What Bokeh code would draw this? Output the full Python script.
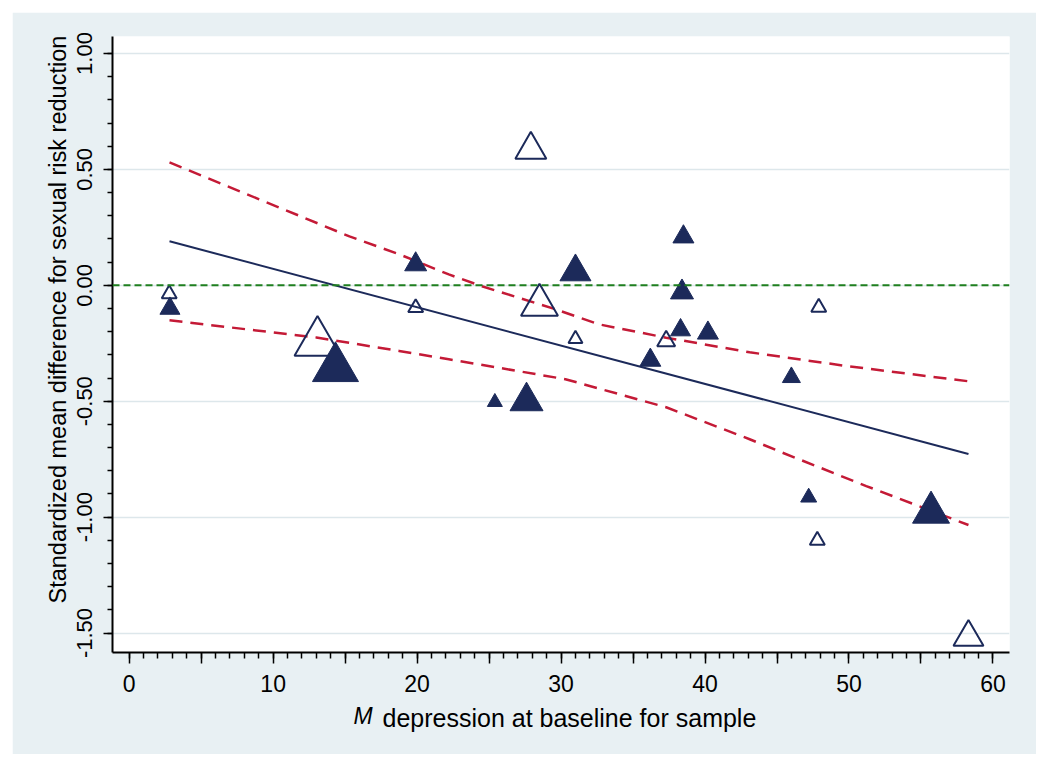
import math
from bokeh.plotting import figure
from bokeh.models import (ColumnDataSource, Range1d, FixedTicker, CustomJSTickFormatter,
                          NumeralTickFormatter, Span, Title)
from bokeh.embed import file_html
from bokeh.resources import INLINE

# ---------------- data ----------------
# hollow triangles
open_x = [2.78, 19.9, 13.08, 27.9, 28.5, 31.0, 37.3, 47.9, 47.8, 58.3]
open_y = [-0.037, -0.097, -0.247, 0.585, -0.085, -0.231, -0.241, -0.095, -1.10, -1.518]
open_size = [15, 15, 46, 31, 37, 14, 18, 15, 15, 30]

# filled triangles
fill_x = [2.83, 14.33, 19.9, 25.4, 27.6, 31.0, 38.5, 38.4, 38.3, 40.2, 36.2, 46.0, 47.2, 55.7]
fill_y = [-0.10, -0.358, 0.09, -0.504, -0.50, 0.058, 0.209, -0.03, -0.193, -0.206, -0.323, -0.397, -0.915, -0.98]
fill_size = [20, 46, 22, 15, 33, 31, 21, 23, 20, 21, 21, 18, 16, 37]

# fitted regression line
fit_x = [2.8, 58.3]
fit_y = [0.19, -0.728]

# confidence band (upper / lower)
upper_x = [2.8, 15.3, 18.75, 22.2, 24.5, 29.6, 32.6, 37.3, 39.6, 43.1, 49.8, 58.3]
upper_y = [0.530, 0.211, 0.134, 0.047, -0.004, -0.103, -0.168, -0.226, -0.251, -0.289, -0.348, -0.414]
lower_x = [2.8, 13.0, 18.75, 22.2, 30.3, 37.3, 43.1, 45.3, 51.2, 58.3]
lower_y = [-0.151, -0.225, -0.283, -0.319, -0.405, -0.526, -0.664, -0.72, -0.866, -1.034]

# ticks
x_major = [0, 5, 10, 15, 20, 25, 30, 35, 40, 45, 50, 55, 60]
x_minor = list(range(0, 61))
y_major = [-1.5, -1.0, -0.5, 0.0, 0.5, 1.0]
y_minor = [-1.5, -1.4, -1.3, -1.2, -1.1, -1.0, -0.9, -0.8, -0.7, -0.6, -0.5, -0.4, -0.3,
           -0.2, -0.1, 0.0, 0.1, 0.2, 0.3, 0.4, 0.5, 0.6, 0.7, 0.8, 0.9, 1.0]

x_title_m = "M"
x_title_rest = "depression at baseline for sample"
y_title = "Standardized mean difference for sexual risk reduction"

# ---------------- styles ----------------
NAVY = "#1c2a5a"
RED = "#c41a36"
GREEN = "#1f7f1f"
OUTER = "#e8f0f3"
FONT = "Liberation Sans"

p = figure(width=1024, height=742, output_backend="svg", toolbar_location=None,
           x_range=Range1d(-1.16, 61.15), y_range=Range1d(-1.584, 1.0733),
           min_border_left=100, min_border_right=27, min_border_top=24, min_border_bottom=102,
           background_fill_color="white", border_fill_color=OUTER, outline_line_color=None)
p.margin = (12, 0, 0, 12)

# axes
xa = p.xaxis[0]
xa.ticker = FixedTicker(ticks=x_major, minor_ticks=x_minor)
xa.formatter = CustomJSTickFormatter(code="return (Math.round(tick) % 10 === 0) ? tick.toFixed(0) : '';")
xa.axis_line_width = 2
xa.axis_line_color = "black"
xa.major_tick_out = 11
xa.major_tick_in = 0
xa.minor_tick_out = 6
xa.minor_tick_in = 0
xa.major_tick_line_width = 1.5
xa.minor_tick_line_width = 1.5
xa.major_label_text_font = FONT
xa.major_label_text_font_size = "23px"
xa.major_label_text_color = "black"
xa.major_label_standoff = 11

ya = p.yaxis[0]
ya.ticker = FixedTicker(ticks=y_major, minor_ticks=y_minor)
ya.formatter = NumeralTickFormatter(format="0.00")
ya.axis_line_width = 2
ya.axis_line_color = "black"
ya.major_tick_out = 9
ya.major_tick_in = 0
ya.minor_tick_out = 5
ya.minor_tick_in = 0
ya.major_tick_line_width = 1.5
ya.minor_tick_line_width = 1.5
ya.major_label_orientation = "vertical"
ya.major_label_text_font = FONT
ya.major_label_text_font_size = "22px"
ya.major_label_text_color = "black"
ya.major_label_standoff = 11

p.xgrid.visible = False
p.ygrid.grid_line_color = "#dde7eb"
p.ygrid.grid_line_width = 1.5

# reference line at zero
p.add_layout(Span(location=0, dimension="width", line_color=GREEN, line_width=2,
                  line_dash="7 4"))

# confidence band and fit
p.line(upper_x, upper_y, line_color=RED, line_width=2.5, line_dash="13 8")
p.line(lower_x, lower_y, line_color=RED, line_width=2.5, line_dash="13 8")
p.line(fit_x, fit_y, line_color=NAVY, line_width=2)

# markers
src_open = ColumnDataSource(dict(x=open_x, y=open_y, s=open_size))
src_fill = ColumnDataSource(dict(x=fill_x, y=fill_y, s=fill_size))
p.scatter("x", "y", size="s", source=src_open, marker="triangle",
          fill_color=None, line_color=NAVY, line_width=2)
p.scatter("x", "y", size="s", source=src_fill, marker="triangle",
          fill_color=NAVY, line_color=NAVY, line_width=1)

# axis titles
p.add_layout(Title(text=y_title, align="left", offset=49, vertical_align="bottom",
                   standoff=8, text_font=FONT, text_font_size="23.5px",
                   text_font_style="normal", text_color="black"), "left")
p.add_layout(Title(text=x_title_rest, align="left", offset=270, vertical_align="top",
                   standoff=19, text_font=FONT, text_font_size="25px",
                   text_font_style="normal", text_color="black"), "below")
p.add_layout(Title(text=x_title_m, align="left", offset=241, vertical_align="top",
                   standoff=-81, text_font=FONT, text_font_size="23px",
                   text_font_style="italic", text_color="black"), "below")

open("out.html", "w").write(file_html(p, INLINE))
